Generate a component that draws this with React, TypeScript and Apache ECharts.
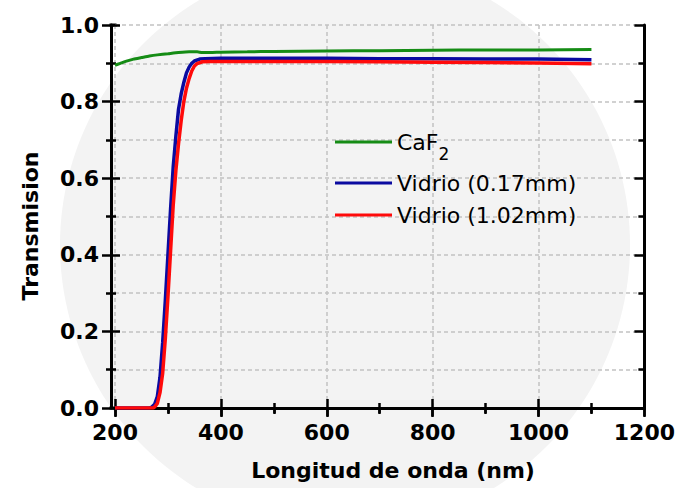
import React, { useEffect, useRef } from "react";
import * as echarts from "echarts";

const caf2X = [200, 210, 220, 235, 250, 265, 280, 300, 320, 340, 355, 365, 380, 400, 450, 500, 600, 700, 800, 900, 1000, 1100];
const caf2Y = [0.895, 0.9, 0.905, 0.911, 0.915, 0.919, 0.922, 0.925, 0.928, 0.93, 0.93, 0.928, 0.928, 0.929, 0.93, 0.931, 0.932, 0.933, 0.934, 0.935, 0.935, 0.936];

const blueX = [200, 265, 270, 275, 280, 285, 290, 295, 300, 305, 310, 315, 320, 325, 330, 335, 340, 345, 350, 360, 370, 400, 500, 600, 700, 800, 900, 1000, 1100];
const blueY = [0, 0, 0.003, 0.01, 0.03, 0.08, 0.17, 0.28, 0.4, 0.52, 0.63, 0.71, 0.78, 0.82, 0.85, 0.875, 0.89, 0.9, 0.906, 0.911, 0.912, 0.913, 0.913, 0.913, 0.912, 0.912, 0.911, 0.911, 0.909];

const redX = [200, 272, 275, 280, 285, 290, 295, 300, 305, 310, 315, 320, 325, 330, 335, 340, 345, 350, 355, 365, 380, 400, 500, 600, 700, 800, 900, 1000, 1100];
const redY = [0, 0, 0.003, 0.012, 0.04, 0.09, 0.18, 0.29, 0.41, 0.53, 0.62, 0.69, 0.75, 0.8, 0.835, 0.86, 0.88, 0.893, 0.899, 0.904, 0.905, 0.905, 0.905, 0.905, 0.904, 0.903, 0.902, 0.901, 0.899];

const seriesNames = ["CaF2", "Vidrio (0.17mm)", "Vidrio (1.02mm)"];
const seriesColors = ["#158c15", "#0a0aa0", "#ff0a0a"];
const xTitle = "Longitud de onda (nm)";
const yTitle = "Transmision";

const zip = (xs: number[], ys: number[]) => xs.map((x, i) => [x, ys[i]]);

export default function App() {
  const ref = useRef<HTMLDivElement>(null);
  useEffect(() => {
    if (!ref.current) return;
    const chart = echarts.init(ref.current, null, { renderer: "svg" });
    const font = "'DejaVu Sans', sans-serif";
    const tickStyle = { color: "#000", width: 2.5 };
    const frameLine = { show: true, lineStyle: { color: "#000", width: 3 } };
    const gridStyle = { color: "#c2c2c2", width: 1.5, type: [4, 3] as any };
    const xBase = { type: "value", min: 200, max: 1200, interval: 200 };
    const yBase = { type: "value", min: 0, max: 1, interval: 0.2 };
    const legendBase = (name: string, top: number) => ({
      data: [name],
      left: 335,
      top,
      icon: "rect",
      itemWidth: 57,
      itemHeight: 3,
      itemGap: 0,
      padding: 0,
      textStyle: {
        fontFamily: font,
        fontSize: 22,
        color: "#000",
        rich: {
          a: { fontFamily: font, fontSize: 22, color: "#000" },
          s: { fontFamily: font, fontSize: 17, color: "#000", padding: [24, 0, 0, 0] },
        },
      },
      formatter: (n: string) => (n === "CaF2" ? "{a|CaF}{s|2}" : "{a|" + n + "}"),
    });
    const bar = (x: number, y: number, w: number, h: number) => ({
      type: "rect", silent: true, shape: { x, y, width: w, height: h }, style: { fill: "#000" },
    });
    chart.setOption({
      animation: false,
      backgroundColor: "#ffffff",
      grid: { left: 115, right: 30, top: 25, bottom: 80, containLabel: false },
      xAxis: [
        {
          ...xBase,
          position: "bottom",
          axisLine: frameLine,
          axisTick: { show: true, inside: false, length: 9, lineStyle: tickStyle },
          minorTick: { show: true, splitNumber: 2, length: 5, lineStyle: tickStyle },
          axisLabel: {
            fontFamily: font, fontSize: 22, fontWeight: "bold", color: "#000", margin: 13,
            formatter: (v: number) => String(v),
          },
          splitLine: { show: true, lineStyle: gridStyle },
        },
        {
          ...xBase,
          position: "bottom",
          axisLine: { show: false },
          axisTick: { show: true, inside: true, length: 9, lineStyle: tickStyle },
          minorTick: { show: true, splitNumber: 2, length: 5, lineStyle: tickStyle },
          axisLabel: { show: false },
          splitLine: { show: false },
        },
        {
          ...xBase,
          position: "top",
          axisLine: frameLine,
          axisTick: { show: true, inside: true, length: 8, lineStyle: tickStyle },
          minorTick: { show: true, splitNumber: 2, length: 6, lineStyle: tickStyle },
          axisLabel: { show: false },
          splitLine: { show: false },
        },
      ],
      yAxis: [
        {
          ...yBase,
          position: "left",
          offset: 4,
          axisLine: frameLine,
          axisTick: { show: true, inside: false, length: 9, lineStyle: tickStyle },
          minorTick: { show: true, splitNumber: 2, length: 5, lineStyle: tickStyle },
          axisLabel: {
            fontFamily: font, fontSize: 22, fontWeight: "bold", color: "#000", margin: 12,
            formatter: (v: number) => v.toFixed(1),
          },
          splitLine: { show: true, lineStyle: gridStyle },
          minorSplitLine: { show: true, lineStyle: gridStyle },
        },
        {
          ...yBase,
          position: "left",
          offset: 4,
          axisLine: { show: false },
          axisTick: { show: true, inside: true, length: 9, lineStyle: tickStyle },
          minorTick: { show: true, splitNumber: 2, length: 5, lineStyle: tickStyle },
          axisLabel: { show: false },
          splitLine: { show: false },
        },
        {
          ...yBase,
          position: "right",
          axisLine: frameLine,
          axisTick: { show: true, inside: true, length: 10, lineStyle: tickStyle },
          minorTick: { show: true, splitNumber: 2, length: 6, lineStyle: tickStyle },
          axisLabel: { show: false },
          splitLine: { show: false },
        },
      ],
      legend: [
        legendBase(seriesNames[0], 131),
        legendBase(seriesNames[1], 172),
        legendBase(seriesNames[2], 204),
      ],
      graphic: [
        { type: "circle", z: -10, silent: true, shape: { cx: 345, cy: 245, r: 285 }, style: { fill: "#f3f3f3" } },
        bar(109.5, 23.5, 7, 3),
        bar(109.5, 406.5, 7, 3),
        {
          type: "text", x: 393, y: 470, silent: true,
          style: { text: xTitle, fontFamily: font, fontSize: 22, fontWeight: "bold", fill: "#000", align: "center", verticalAlign: "middle" },
        },
        {
          type: "text", x: 30, y: 226, rotation: Math.PI / 2, silent: true,
          style: { text: yTitle, fontFamily: font, fontSize: 22, fontWeight: "bold", fill: "#000", align: "center", verticalAlign: "middle" },
        },
      ],
      series: [
        { name: seriesNames[0], type: "line", data: zip(caf2X, caf2Y), smooth: 0.2, showSymbol: false, symbol: "none", color: seriesColors[0], lineStyle: { width: 3, color: seriesColors[0] }, itemStyle: { color: seriesColors[0] } },
        { name: seriesNames[1], type: "line", data: zip(blueX, blueY), showSymbol: false, symbol: "none", color: seriesColors[1], lineStyle: { width: 3.5, color: seriesColors[1] }, itemStyle: { color: seriesColors[1] } },
        { name: seriesNames[2], type: "line", data: zip(redX, redY), showSymbol: false, symbol: "none", color: seriesColors[2], lineStyle: { width: 3.5, color: seriesColors[2] }, itemStyle: { color: seriesColors[2] } },
      ],
    });
    return () => chart.dispose();
  }, []);
  return <div ref={ref} style={{ position: "fixed", left: 0, top: 0, width: 678, height: 488 }} />;
}
